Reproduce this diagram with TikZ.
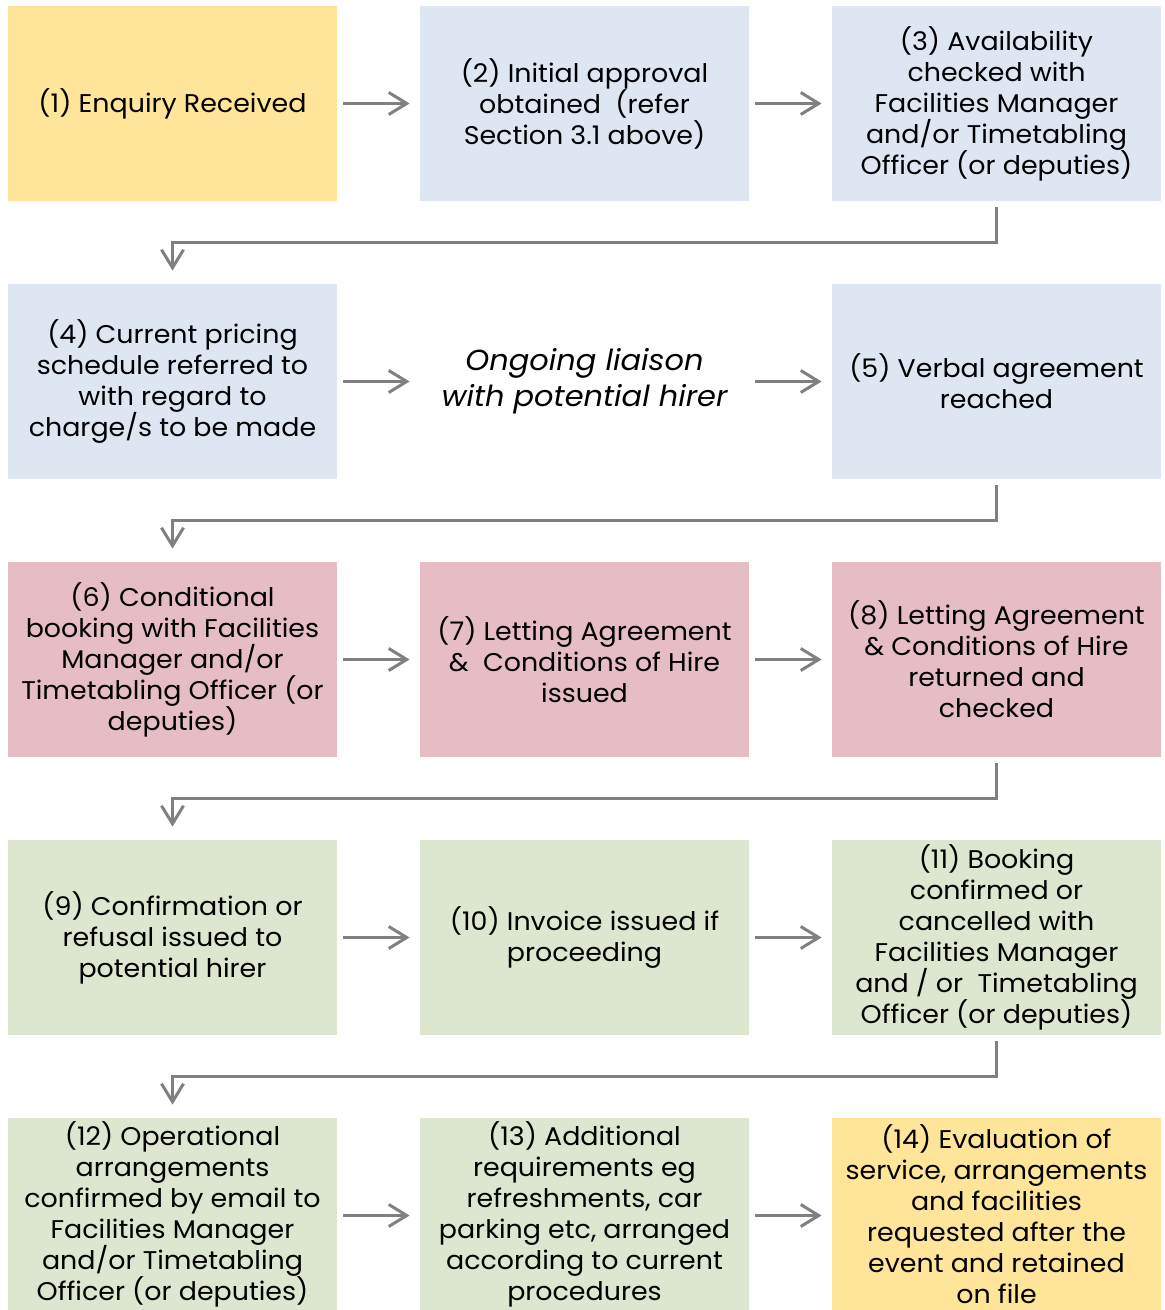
\documentclass[tikz,border=0pt]{standalone}
\usepackage{fontspec}
\setmainfont[FakeStretch=1.05]{Poppins}
\usetikzlibrary{arrows.meta}
\newcommand\tightlines{\lineskiplimit=-20pt\relax\lineskip=0pt\relax}
\definecolor{cyel}{HTML}{FFE599}
\definecolor{cblu}{HTML}{DEE6F1}
\definecolor{cpnk}{HTML}{E6BDC5}
\definecolor{cgrn}{HTML}{DDE6CF}
\definecolor{cline}{HTML}{808080}
\tikzset{
  box/.style={rectangle, minimum width=164.5pt, minimum height=97.5pt, inner sep=0pt, align=center, font=\fontsize{12.8pt}{15.5pt}\selectfont\tightlines, text=black},
  yel/.style={box, fill=cyel},
  blu/.style={box, fill=cblu},
  pnk/.style={box, fill=cpnk},
  grn/.style={box, fill=cgrn},
  arr/.style={draw=cline, line width=1.5pt, -{Straight Barb[length=9pt,width=11pt,line width=1.5pt]}},
  elb/.style={draw=cline, line width=1.4pt, -{Straight Barb[length=9pt,width=11pt,line width=1.5pt]}},
}
\begin{document}
\begin{tikzpicture}
\useasboundingbox (0,0) rectangle (582pt,-655pt);
\node[yel] (b1) at (86.25pt,-51.75pt) {(1) Enquiry Received};
\node[blu] (b2) at (292.25pt,-51.75pt) {(2) Initial approval\\obtained~ (refer\\Section 3.1 above)};
\node[blu] (b3) at (498.25pt,-51.75pt) {(3) Availability\\checked with\\Facilities Manager\\and/or Timetabling\\Officer (or deputies)};
\node[blu] (b4) at (86.25pt,-190.75pt) {(4) Current pricing\\schedule referred to\\with regard to\\charge/s to be made};
\node[box, font=\fontsize{14.5pt}{18pt}\selectfont\itshape\tightlines] (lia) at (292.25pt,-190.75pt) {Ongoing liaison\\with potential hirer};
\node[blu] (b5) at (498.25pt,-190.75pt) {(5) Verbal agreement\\reached};
\node[pnk] (b6) at (86.25pt,-329.75pt) {(6) Conditional\\booking with Facilities\\Manager and/or\\Timetabling Officer (or\\deputies)};
\node[pnk] (b7) at (292.25pt,-329.75pt) {(7) Letting Agreement\\\&~ Conditions of Hire\\issued};
\node[pnk] (b8) at (498.25pt,-329.75pt) {(8) Letting Agreement\\\& Conditions of Hire\\returned and\\checked};
\node[grn] (b9) at (86.25pt,-468.75pt) {(9) Confirmation or\\refusal issued to\\potential hirer};
\node[grn] (b10) at (292.25pt,-468.75pt) {(10) Invoice issued if\\proceeding};
\node[grn] (b11) at (498.25pt,-468.75pt) {(11) Booking\\confirmed or\\cancelled with\\Facilities Manager\\and / or~ Timetabling\\Officer (or deputies)};
\node[grn] (b12) at (86.25pt,-607.75pt) {};
\node[grn] (b13) at (292.25pt,-607.75pt) {};
\node[yel] (b14) at (498.25pt,-607.75pt) {};
\node[box, fill=none] (t12) at ([yshift=0.5pt]b12.center) {(12) Operational\\arrangements\\confirmed by email to\\Facilities Manager\\and/or Timetabling\\Officer (or deputies)};
\node[box, fill=none] (t13) at ([yshift=0.5pt]b13.center) {(13) Additional\\requirements eg\\refreshments, car\\parking etc, arranged\\according to current\\procedures};
\node[box, fill=none] (t14) at ([yshift=0.5pt]b14.center) {(14) Evaluation of\\service, arrangements\\and facilities\\requested after the\\event and retained\\on file};
% horizontal arrows
\draw[arr] ([xshift=3pt]b1.east) -- ([xshift=-5pt]b2.west);
\draw[arr] ([xshift=3pt]b2.east) -- ([xshift=-5pt]b3.west);
\draw[arr] ([xshift=3pt]b4.east) -- ([xshift=-5pt]b4.east -| b2.west);
\draw[arr] ([xshift=3pt]b4.east -| b2.east) -- ([xshift=-5pt]b5.west);
\draw[arr] ([xshift=3pt]b6.east) -- ([xshift=-5pt]b7.west);
\draw[arr] ([xshift=3pt]b7.east) -- ([xshift=-5pt]b8.west);
\draw[arr] ([xshift=3pt]b9.east) -- ([xshift=-5pt]b10.west);
\draw[arr] ([xshift=3pt]b10.east) -- ([xshift=-5pt]b11.west);
\draw[arr] ([xshift=3pt]b12.east) -- ([xshift=-5pt]b13.west);
\draw[arr] ([xshift=3pt]b13.east) -- ([xshift=-5pt]b14.west);
% elbow connectors
\draw[elb] ([yshift=-3pt]b3.south) -- ++(0,-17.5pt) -| ([yshift=6.5pt]b4.north);
\draw[elb] ([yshift=-3pt]b5.south) -- ++(0,-17.5pt) -| ([yshift=6.5pt]b6.north);
\draw[elb] ([yshift=-3pt]b8.south) -- ++(0,-17.5pt) -| ([yshift=6.5pt]b9.north);
\draw[elb] ([yshift=-3pt]b11.south) -- ++(0,-17.5pt) -| ([yshift=6.5pt]b12.north);
\end{tikzpicture}
\end{document}
